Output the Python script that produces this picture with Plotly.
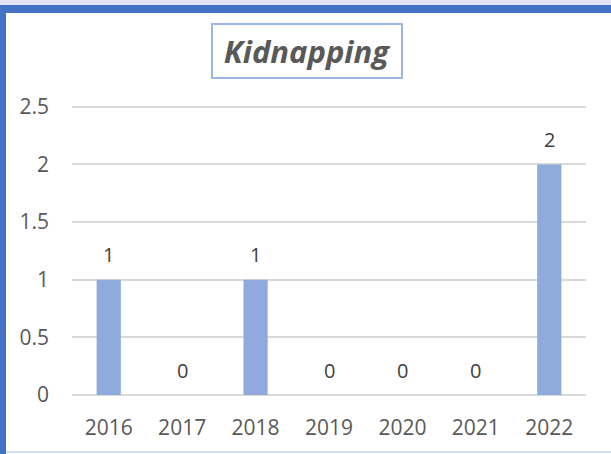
import plotly.graph_objects as go

# ---------------------------------------------------------------------------
# Data
# ---------------------------------------------------------------------------
years = ["2016", "2017", "2018", "2019", "2020", "2021", "2022"]
cases = [1, 0, 1, 0, 0, 0, 2]
y_ticks = [0, 0.5, 1, 1.5, 2, 2.5]
y_tick_text = ["0", "0.5", "1", "1.5", "2", "2.5"]

# ---------------------------------------------------------------------------
# Look
# ---------------------------------------------------------------------------
W, H = 611, 454
M = dict(l=72, r=25, t=105, b=59)
Y_TOP = 2.516  # a hair above 2.5 so the top gridline is kept
BAR = "#8FAADC"
GRID = "#D9D9D9"
TICK = "#595959"
LABEL = "#404040"
FRAME = "#4472C4"
FONT = "Open Sans"

PW = W - M["l"] - M["r"]
PH = H - M["t"] - M["b"]


def px_x(x):
    return (x - M["l"]) / PW


def px_y(y):
    return 1 - (y - M["t"]) / PH


fig = go.Figure(go.Bar(
    x=years,
    y=cases,
    marker=dict(color=BAR, line=dict(width=0)),
    hoverinfo="skip",
))

# data labels above each bar (category index, since "2016" etc. look numeric)
for i, v in enumerate(cases):
    fig.add_annotation(
        x=i, y=v, xref="x", yref="y",
        text=str(v), showarrow=False,
        yanchor="middle", yshift=25,
        font=dict(family=FONT, size=20, color=LABEL),
    )

# boxed title
fig.add_annotation(
    x=px_x(307), y=px_y(51), xref="paper", yref="paper",
    xanchor="center", yanchor="middle",
    text="<b><i>Kidnapping</i></b>", showarrow=False,
    width=188, height=52,
    bordercolor="#9DB5E2", borderwidth=2, borderpad=0, bgcolor="white",
    font=dict(family=FONT, size=31, color=TICK),
)

# outer frame: pale strip, blue top/left bands, thin bottom line
shapes = [
    dict(type="rect", x0=px_x(0), x1=px_x(W), y0=px_y(0), y1=px_y(5),
         fillcolor="#E4E6F7", line=dict(width=0)),
    dict(type="rect", x0=px_x(0), x1=px_x(W), y0=px_y(5), y1=px_y(13),
         fillcolor=FRAME, line=dict(width=0)),
    dict(type="rect", x0=px_x(0), x1=px_x(6), y0=px_y(5), y1=px_y(H),
         fillcolor=FRAME, line=dict(width=0)),
    dict(type="line", x0=px_x(6), x1=px_x(W), y0=px_y(452), y1=px_y(452),
         line=dict(color="#C5D3EC", width=1.5)),
]
for s in shapes:
    s.update(xref="paper", yref="paper", layer="above")
    fig.add_shape(**s)

fig.update_layout(
    width=W, height=H,
    margin=M,
    paper_bgcolor="white",
    plot_bgcolor="white",
    bargap=0.67,
    showlegend=False,
    font=dict(family=FONT, size=21, color=TICK),
)

fig.update_xaxes(
    type="category",
    range=[-0.5, len(years) - 0.5],
    showgrid=False, showline=False, zeroline=False,
    ticks="", ticklabelstandoff=18,
    tickfont=dict(family=FONT, size=21, color=TICK),
    automargin=False, fixedrange=True,
)
fig.update_yaxes(
    range=[0, Y_TOP],
    tickvals=y_ticks, ticktext=y_tick_text,
    showgrid=True, gridcolor=GRID, gridwidth=1.5,
    zeroline=True, zerolinecolor=GRID, zerolinewidth=1.5,
    showline=False, ticks="", ticklabelstandoff=22,
    tickfont=dict(family=FONT, size=21, color=TICK),
    automargin=False, fixedrange=True,
)

fig.write_html(
    "out.html",
    config={"displayModeBar": False},
    post_script="document.body.style.margin='0';document.body.style.overflow='hidden';",
)
